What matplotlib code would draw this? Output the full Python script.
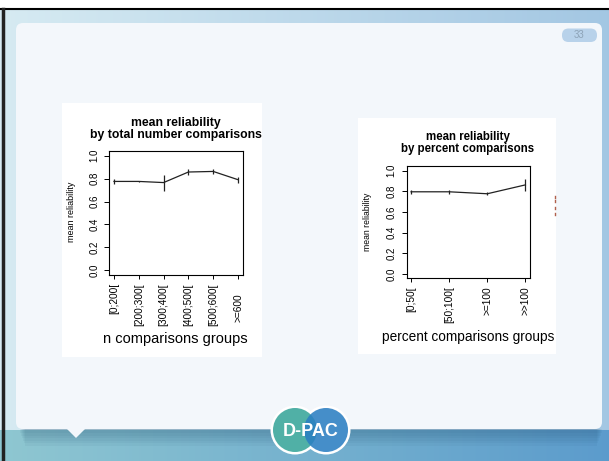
import matplotlib
matplotlib.use("Agg")
import matplotlib.pyplot as plt
import numpy as np
from matplotlib.patches import FancyBboxPatch, Rectangle, Polygon, Circle
from matplotlib.transforms import ScaledTranslation

plt.rcParams["font.family"] = ["Liberation Sans", "DejaVu Sans"]

# mean reliability by total number of comparisons
total_groups = ["[0;200[", "[200;300[", "[300;400[", "[400;500[", "[500;600[", ">=600"]
total_mean = [0.775, 0.775, 0.765, 0.857, 0.862, 0.790]
total_err = [0.025, 0.008, 0.070, 0.023, 0.025, 0.026]

# mean reliability by percent of comparisons
pct_groups = ["[0;50[", "[50;100[", ">=100", ">>100"]
pct_mean = [0.795, 0.795, 0.776, 0.862]
pct_err = [0.022, 0.022, 0.016, 0.058]

yticks = [0.0, 0.2, 0.4, 0.6, 0.8, 1.0]

W, H = 609, 461
fig = plt.figure(figsize=(W / 100, H / 100), dpi=100)

# slide background
bg = fig.add_axes([0, 0, 1, 1])
bg.set_xlim(0, W)
bg.set_ylim(H, 0)
bg.axis("off")

img = np.ones((H, W, 3))
t = np.linspace(0, 1, W)[None, :, None]
up_l = np.array([0.84, 0.92, 0.95])
up_r = np.array([0.64, 0.78, 0.89])
lo_l = np.array([0.56, 0.78, 0.82])
lo_r = np.array([0.36, 0.61, 0.80])
img[10:430] = up_l + (up_r - up_l) * t
img[430:] = lo_l + (lo_r - lo_l) * t
bg.imshow(img, extent=(0, W, H, 0), aspect="auto", zorder=0)
bg.plot([0, W], [9.5, 9.5], color="black", lw=1.5, zorder=1)
bg.plot([3, 3], [9.5, H], color="#222222", lw=2.5, zorder=1)

# shadow under the panel
for k in range(6):
    bg.add_patch(Rectangle((20 + k, 429), 582 - 2 * k, 4 + 2.5 * k,
                           color="#1d4a6a", alpha=0.05, lw=0, zorder=2))

panel = FancyBboxPatch((16, 23), 586, 406, boxstyle="round,pad=0,rounding_size=7",
                       fc="#f3f7fb", ec="none", zorder=3)
bg.add_patch(panel)
bg.add_patch(Polygon([(66, 428), (86, 428), (76, 438)], closed=True,
                     fc="#f3f7fb", ec="none", zorder=3))

# page number
bg.add_patch(FancyBboxPatch((562, 28.5), 35, 13.5, boxstyle="round,pad=0,rounding_size=6.5",
                            fc="#b8d2ea", ec="none", zorder=4))
bg.text(579.5, 35.5, "33", fontsize=7, color="#8da3b7", ha="center", va="center", zorder=5)

# white boxes holding the two plots
bg.add_patch(Rectangle((62, 103), 200, 254, fc="white", ec="none", zorder=4))
bg.add_patch(Rectangle((358, 118), 198, 236, fc="white", ec="none", zorder=4))
for yy in (196, 200, 207, 213):
    bg.plot([555, 555], [yy, yy + 2], color="#b0604c", lw=1, zorder=5)

# logo
for cx in (295, 326):
    bg.add_patch(Circle((cx, 430), 24.5, fc="white", ec="none", zorder=6))
bg.add_patch(Circle((295, 430), 22, fc="#50b0a6", ec="none", zorder=7))
bg.add_patch(Circle((326, 430), 22, fc="#2b7fc2", ec="none", alpha=0.88, zorder=8))
bg.text(311, 431, "D-PAC", color="white", fontsize=13, fontweight="bold",
        ha="center", va="center", zorder=9)


def px_axes(x0, y0, x1, y1):
    return fig.add_axes([x0 / W, 1 - y1 / H, (x1 - x0) / W, (y1 - y0) / H])


def r_plot(ax, groups, mean, err):
    x = np.arange(1, len(groups) + 1)
    ax.errorbar(x, mean, yerr=err, color="#222222", lw=0.9, elinewidth=0.9, capsize=0)
    ax.set_xlim(1 - 0.04 * (len(x) - 1), len(x) + 0.04 * (len(x) - 1))
    ax.set_ylim(-0.04, 1.04)
    ax.set_yticks(yticks)
    ax.set_yticklabels([f"{v:.1f}" for v in yticks], rotation=90, va="center", fontsize=7)
    ax.set_xticks(x)
    ax.set_xticklabels(groups, rotation=90, fontsize=7.3)
    ax.tick_params(axis="y", length=3.5, width=0.7, pad=3.5)
    ax.tick_params(axis="x", length=3, width=0.7, pad=3)
    for s in ax.spines.values():
        s.set_linewidth(0.8)
    ax.set_zorder(10)


ax1 = px_axes(109, 151, 243, 275)
r_plot(ax1, total_groups, total_mean, total_err)
lab = ax1.get_xticklabels()[-1]
lab.set_transform(lab.get_transform() + ScaledTranslation(0, -0.1, fig.dpi_scale_trans))

ax2 = px_axes(406.5, 166.5, 530, 278)
r_plot(ax2, pct_groups, pct_mean, pct_err)

txt = dict(ha="center", va="center", zorder=11)
bg.text(176, 123, "mean reliability", fontsize=8.8, fontweight="bold", **txt)
bg.text(176, 135, "by total number comparisons", fontsize=8.8, fontweight="bold", **txt)
bg.text(71, 212, "mean reliability", fontsize=6.5, rotation=90, **txt)
bg.text(175, 339, "n comparisons groups", fontsize=10.5, **txt)

bg.text(468, 137, "mean reliability", fontsize=8.3, fontweight="bold", **txt)
bg.text(468, 149, "by percent comparisons", fontsize=8.3, fontweight="bold", **txt)
bg.text(368, 222, "mean reliability", fontsize=6.2, rotation=90, **txt)
bg.text(468.5, 337, "percent comparisons groups", fontsize=9.8, **txt)

fig.savefig("out.png", dpi=100)
